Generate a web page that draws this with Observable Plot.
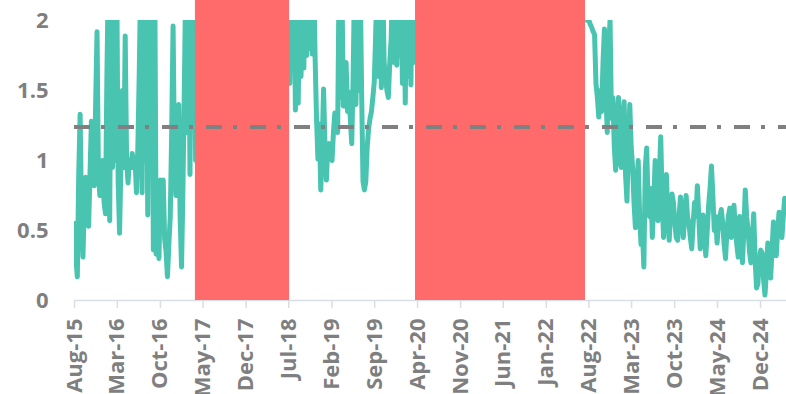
<!DOCTYPE html>
<html><head><meta charset="utf-8">
<script src="https://cdn.jsdelivr.net/npm/d3@7"></script>
<script src="https://cdn.jsdelivr.net/npm/@observablehq/plot@0.6"></script>
<style>html,body{margin:0;padding:0;background:#fff;overflow:hidden}</style>
</head><body><div id="chart"></div>
<script>
// ---- data ----
const xTickLabels = ["Aug-15","Mar-16","Oct-16","May-17","Dec-17","Jul-18","Feb-19","Sep-19","Apr-20","Nov-20","Jun-21","Jan-22","Aug-22","Mar-23","Oct-23","May-24","Dec-24"];
const yTicks = [0, 0.5, 1, 1.5, 2];
const referenceLevel = 1.24;
const periodStarts = ["2017-03-24", "2020-03-22"];
const periodEnds = ["2018-07-05", "2022-07-15"];
const xDomain = ["2015-08-01", "2025-04-09"];
const stepDays = 7; // weekly observations

const seg1Start = "2015-08-01";
const seg1Values = [0.55,0.3,0.17,0.9,1.33,0.6,0.31,0.7,0.88,0.6,0.53,0.9,1.28,0.95,0.82,1.4,1.92,0.9,0.75,0.95,
  1.0,0.7,0.62,1.6,2.3,0.57,2.3,0.95,2.3,1.0,2.3,0.85,0.48,1.0,1.5,0.95,1.89,1.0,0.84,1.0,
  0.95,1.05,0.95,1.0,0.77,1.1,1.64,2.3,0.77,2.3,1.0,2.3,0.61,2.3,0.9,2.3,0.36,2.3,0.33,0.5,
  0.3,0.86,0.55,0.86,0.44,0.35,0.17,0.4,0.6,1.2,1.96,1.0,0.75,0.9,1.4,0.6,0.24,0.8,1.52,2.3,
  1.2,2.3,0.9,2.3,1.73,2.3,1.0];

const seg2Start = "2018-07-06";
const seg2Values = [1.55,2.3,1.8,2.3,1.36,2.3,1.41,2.3,1.6,2.3,1.66,2.3,1.75,2.3,1.8,2.3,1.76,2.3,1.73,1.3,
  1.01,1.26,0.79,1.1,1.51,1.1,0.86,1.1,1.12,1.05,1.0,1.2,1.34,1.25,1.2,2.3,1.45,2.3,1.39,1.5,
  1.7,1.35,1.49,1.3,1.12,1.6,2.3,1.4,2.3,1.5,2.3,1.5,0.85,0.79,0.85,1.1,1.23,1.3,1.35,1.45,
  1.56,1.9,2.3,1.6,2.3,1.52,2.3,1.7,1.6,1.5,1.45,1.7,1.87,2.3,1.7,2.3,1.68,2.3,1.75,2.3,
  1.55,2.3,1.41,2.3,1.6,2.3,1.54,2.3,1.7];

const seg3Start = "2022-07-25";
const seg3Values = [2.0,2.0,1.97,1.95,1.92,1.9,1.55,1.45,1.31,1.5,1.35,1.7,1.94,1.5,1.2,1.8,2.0,1.3,1.45,1.1,
  0.93,1.3,1.45,1.0,0.95,1.3,1.42,0.9,0.71,1.1,1.40,1.1,0.95,0.7,0.52,0.8,1.0,0.6,0.40,0.5,
  0.24,0.95,1.09,0.7,0.6,0.8,0.45,0.7,1.0,0.8,0.57,0.9,1.17,0.7,0.45,0.7,0.9,0.6,0.43,0.65,
  0.76,0.7,0.55,0.45,0.43,0.6,0.74,0.6,0.45,0.6,0.75,0.6,0.55,0.45,0.37,0.55,0.7,0.6,0.82,0.6,
  0.37,0.5,0.61,0.45,0.32,0.5,0.68,0.8,0.96,0.75,0.5,0.6,0.41,0.55,0.6,0.65,0.55,0.4,0.30,0.5,
  0.6,0.66,0.45,0.6,0.68,0.5,0.4,0.31,0.6,0.45,0.27,0.5,0.79,0.6,0.5,0.35,0.27,0.45,0.62,0.3,
  0.09,0.12,0.3,0.36,0.34,0.15,0.04,0.2,0.41,0.3,0.16,0.35,0.56,0.45,0.32,0.5,0.63,0.55,0.45,0.6,
  0.73];

// ---- build tables ----
const segments = [[seg1Start, seg1Values], [seg2Start, seg2Values], [seg3Start, seg3Values]];
const rows = segments.flatMap(([start, vals], s) =>
  vals.map((v, i) => ({date: d3.utcDay.offset(new Date(start), stepDays * i), value: v, seg: s})));
const periods = periodStarts.map((s, i) => ({start: new Date(s), end: new Date(periodEnds[i])}));
const parseTick = d3.utcParse("%b-%y");
const xTickDates = xTickLabels.map(parseTick);
const fmt = d3.utcFormat("%b-%y");

const chart = Plot.plot({
  width: 786, height: 394,
  marginLeft: 74, marginRight: 0, marginTop: 20, marginBottom: 94,
  style: {fontFamily: "'Open Sans', sans-serif", background: "white"},
  x: {type: "utc", domain: xDomain.map(d => new Date(d))},
  y: {domain: [0, 2]},
  marks: [
    Plot.ruleY([0], {stroke: "#d9dde4", strokeWidth: 1.5}),
    Plot.line(rows, {x: "date", y: "value", z: "seg", stroke: "#48C4B0", strokeWidth: 5, strokeLinejoin: "round", strokeLinecap: "round", clip: true}),
    Plot.rect(periods, {x1: "start", x2: "end", y1: 0, y2: 2.15, fill: "#FF6B6B"}),
    Plot.ruleY([referenceLevel], {stroke: "#808080", strokeWidth: 4, strokeDasharray: "16,11,4,13"}),
    Plot.axisX({ticks: xTickDates, tickFormat: fmt, tickRotate: -90, tickSize: 8, tickPadding: 10, stroke: "#d9dde4", strokeWidth: 1.5, fill: "#7f7f7f", fontSize: 22, fontWeight: "bold", label: null}),
    Plot.axisY({ticks: yTicks, tickFormat: d => String(d), tickSize: 0, tickPadding: 26, fill: "#7f7f7f", fontSize: 22, fontWeight: "bold", label: null})
  ]
});
document.getElementById("chart").appendChild(chart);
</script>
</body></html>
